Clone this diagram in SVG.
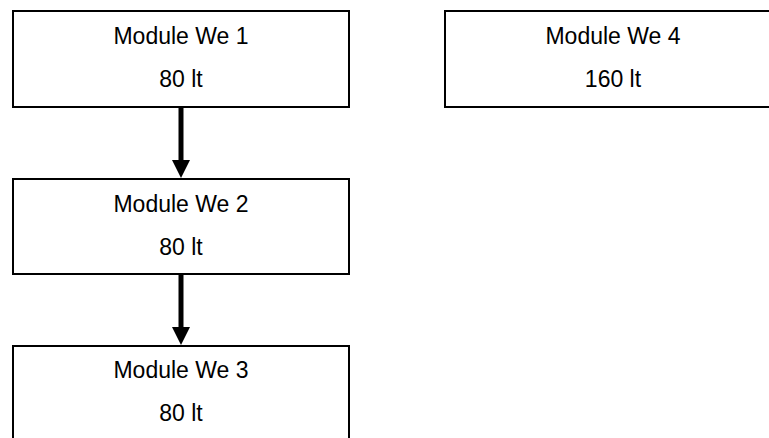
<svg xmlns="http://www.w3.org/2000/svg" width="769" height="438" viewBox="0 0 769 438">
<style>
.box{fill:#fff;stroke:#000;stroke-width:2}
.t{font-family:"Liberation Sans",Arial,sans-serif;font-size:23px;fill:#000;text-anchor:middle}
.c{stroke:#000;stroke-width:5;fill:none}
</style>
<rect width="769" height="438" fill="#fff"/>
<g id="we1"><rect class="box" x="13" y="11" width="336" height="96"/><text class="t" x="181" y="44">Module We 1</text><text class="t" x="181" y="87">80 lt</text></g>
<g id="we2"><rect class="box" x="13" y="179" width="336" height="95"/><text class="t" x="181" y="212">Module We 2</text><text class="t" x="181" y="255">80 lt</text></g>
<g id="we3"><rect class="box" x="13" y="346" width="336" height="100"/><text class="t" x="181" y="378">Module We 3</text><text class="t" x="181" y="421">80 lt</text></g>
<g id="we4"><rect class="box" x="445" y="11" width="336" height="96"/><text class="t" x="613" y="44">Module We 4</text><text class="t" x="613" y="87">160 lt</text></g>
<g id="connectors">
<line class="c" x1="181" y1="108" x2="181" y2="162"/><polygon points="172,160 190,160 181,178"/>
<line class="c" x1="181" y1="275" x2="181" y2="329"/><polygon points="172,327 190,327 181,345"/>
</g>
</svg>
